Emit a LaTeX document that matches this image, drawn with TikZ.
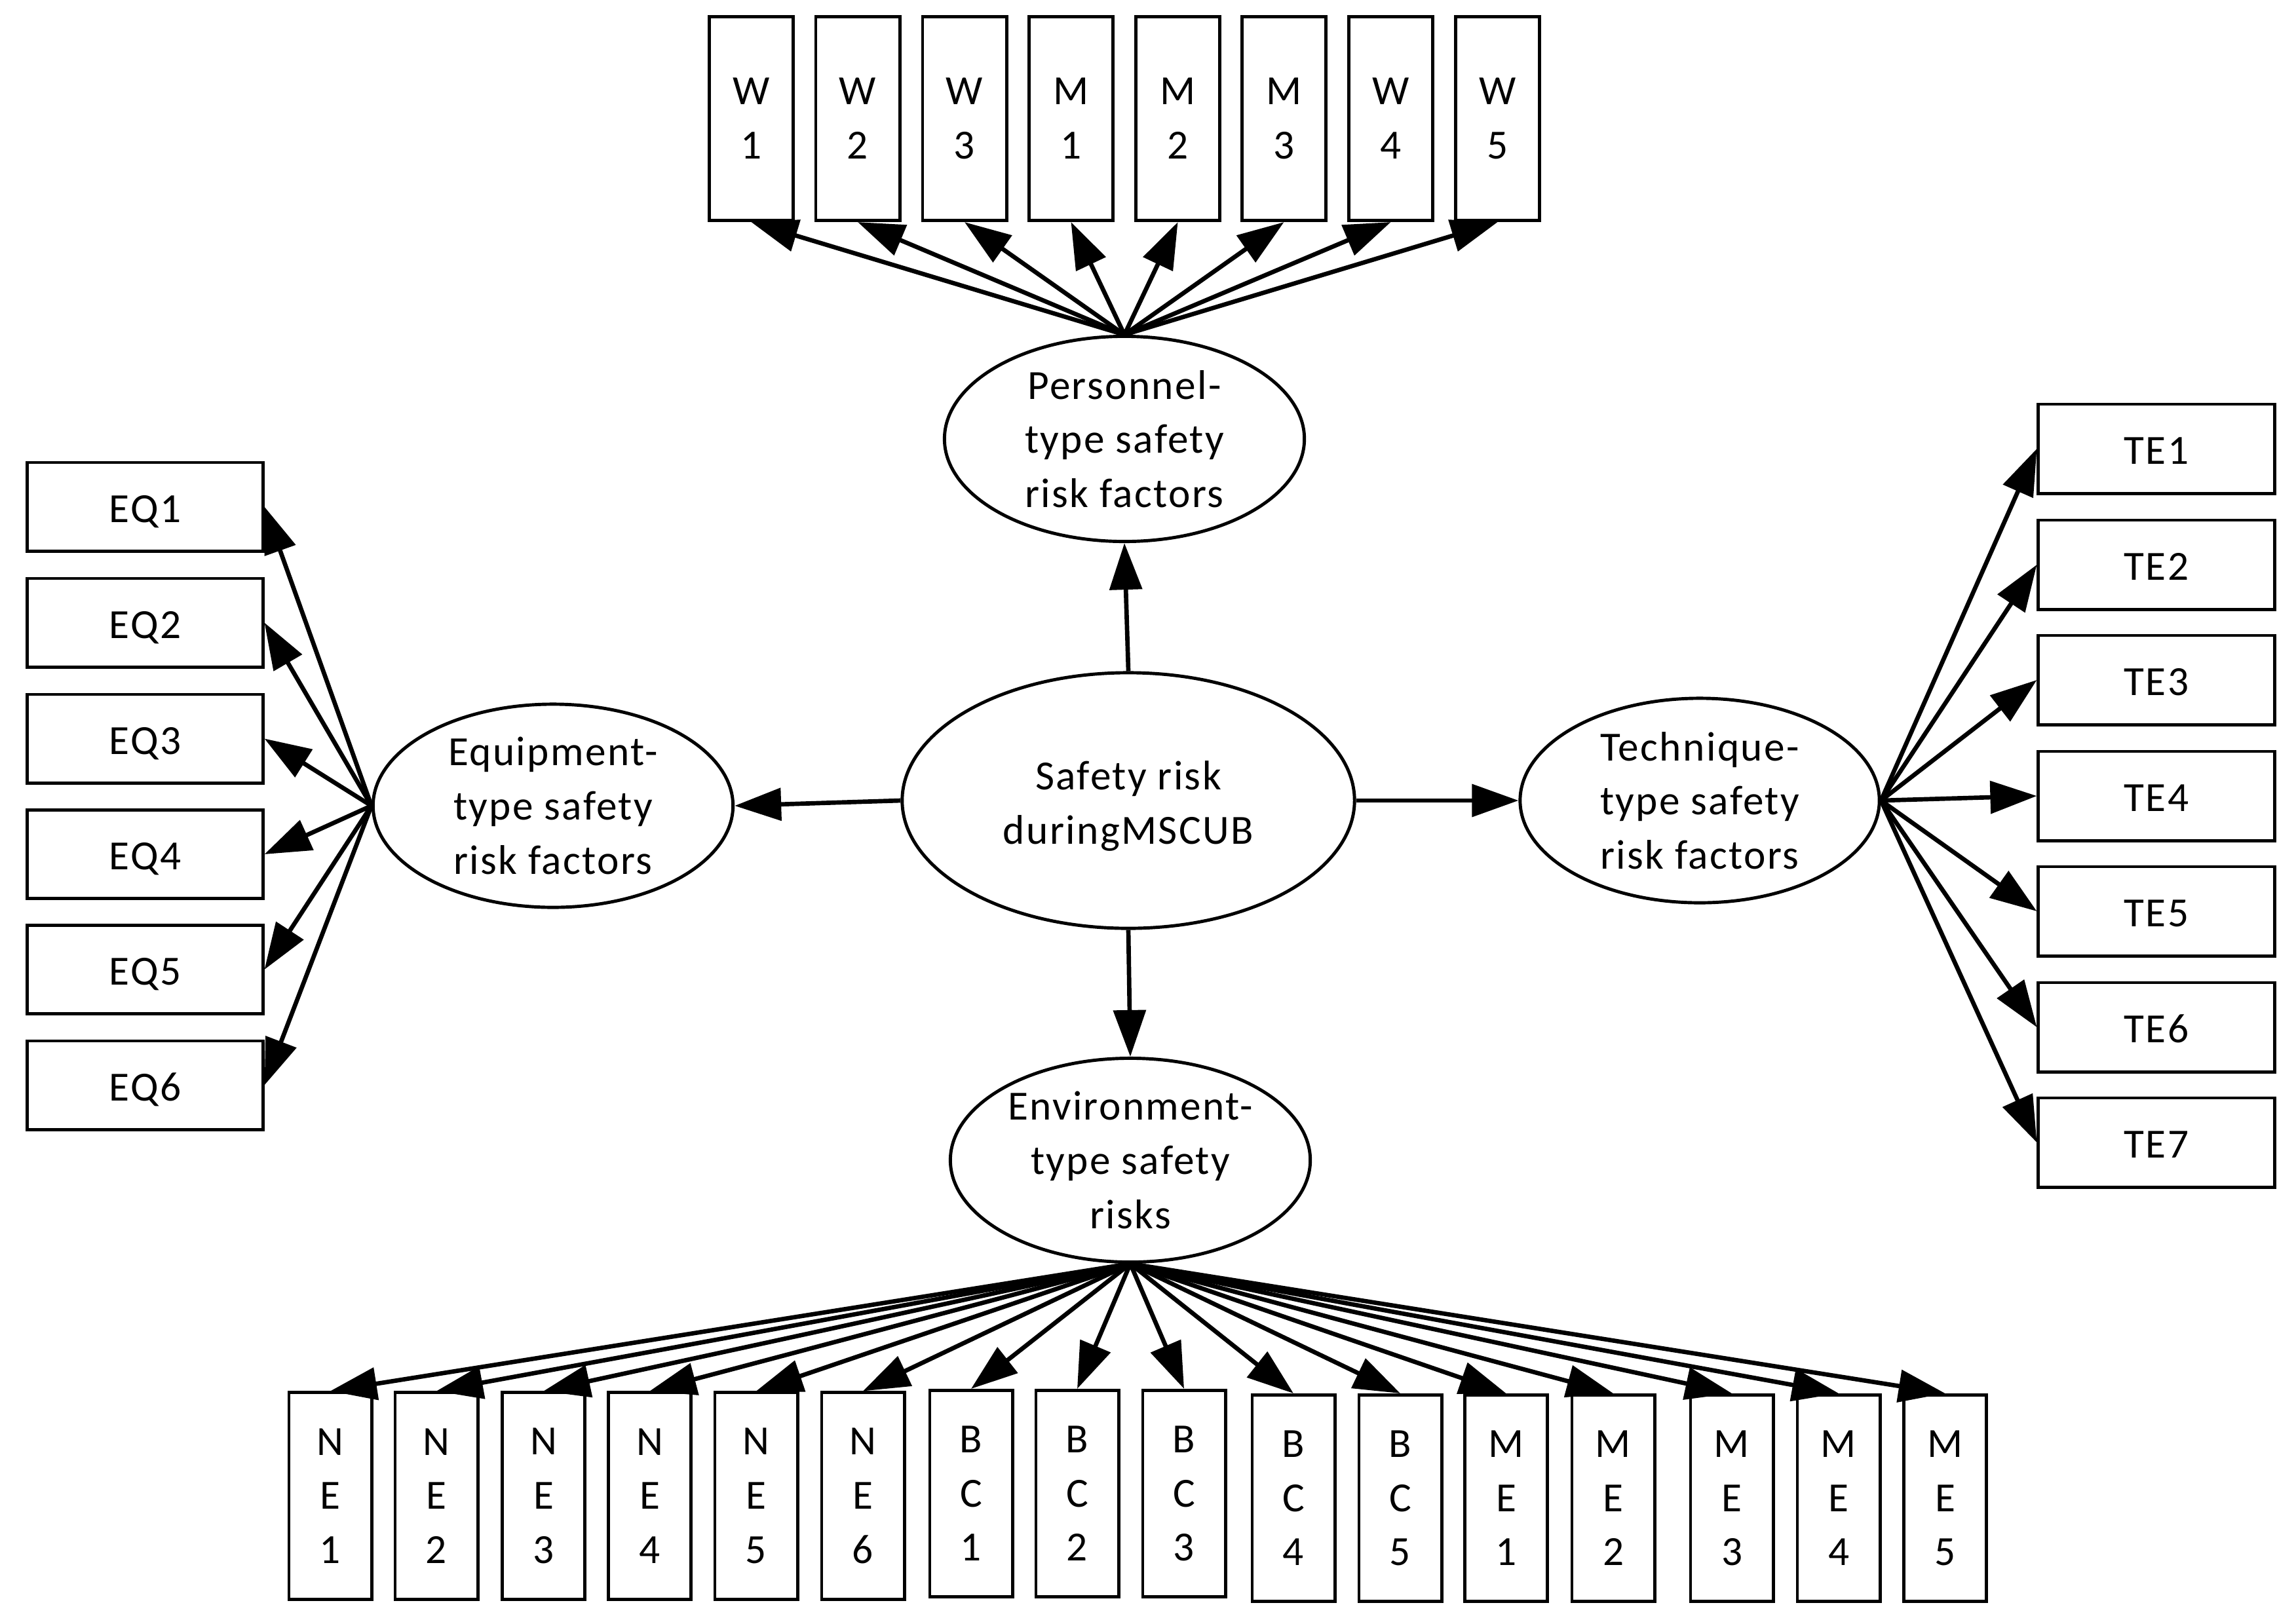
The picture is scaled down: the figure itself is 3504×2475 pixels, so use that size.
\documentclass[tikz,border=0pt]{standalone}
\usepackage{fontspec}
\setmainfont{Carlito}[LetterSpace=3.8]
\usetikzlibrary{shapes.geometric,arrows.meta}
\newcommand\lblfont{\fontsize{18}{23.5}\selectfont}
\begin{document}
\begin{tikzpicture}[x=0.01cm,y=-0.01cm,
  ell/.style={draw, ellipse, line width=1.4pt, inner sep=0pt, align=center, font=\lblfont},
  box/.style={draw, rectangle, line width=1.4pt, inner sep=0pt, align=center, font=\lblfont},
  vbox/.style={box, minimum width=1.28cm, minimum height=3.11cm},
  hbox/.style={box, minimum width=3.59cm, minimum height=1.35cm, text height=13.6pt, text depth=0pt},
  rbox/.style={hbox, minimum width=3.60cm, minimum height=1.36cm},
  bbox/.style={box, minimum width=1.26cm, minimum height=3.15cm},
  arr/.style={-{Triangle[length=0.71cm,width=0.49cm]}, line width=1.9pt}]
\useasboundingbox (0,0) rectangle (3504,2475);
% ellipses
\node[ell, minimum width=6.90cm, minimum height=3.90cm] (c) at (1722,1222) {\rule{0pt}{17.4pt}Safety risk\\duringMSCUB};
\node[ell, minimum width=5.49cm, minimum height=3.13cm] (pers) at (1716,670) {Personnel-\\type safety\\risk factors};
\node[ell, minimum width=5.49cm, minimum height=3.10cm] (equip) at (844,1230) {Equipment-\\type safety\\risk factors};
\node[ell, minimum width=5.48cm, minimum height=3.12cm] (tech) at (2594,1222) {Technique-\\type safety\\risk factors};
\node[ell, minimum width=5.49cm, minimum height=3.11cm] (env) at (1725,1771) {Environment-\\type safety\\risks};
% top boxes
\node[vbox] (w1) at (1146.5,181) {W\\1};
\node[vbox] (w2) at (1309,181) {W\\2};
\node[vbox] (w3) at (1472,181) {W\\3};
\node[vbox] (m1) at (1634.5,181) {M\\1};
\node[vbox] (m2) at (1797.5,181) {M\\2};
\node[vbox] (m3) at (1959.5,181) {M\\3};
\node[vbox] (w4) at (2122.5,181) {W\\4};
\node[vbox] (w5) at (2285.5,181) {W\\5};
% left boxes
\node[hbox] (eq1) at (221.5,773.5) {EQ1};
\node[hbox] (eq2) at (221.5,950.5) {EQ2};
\node[hbox] (eq3) at (221.5,1127.5) {EQ3};
\node[hbox] (eq4) at (221.5,1304) {EQ4};
\node[hbox] (eq5) at (221.5,1480) {EQ5};
\node[hbox] (eq6) at (221.5,1656.5) {EQ6};
% right boxes
\node[rbox] (te1) at (3291,685) {TE1};
\node[rbox] (te2) at (3291,862) {TE2};
\node[rbox] (te3) at (3291,1038) {TE3};
\node[rbox] (te4) at (3291,1215) {TE4};
\node[rbox] (te5) at (3291,1391) {TE5};
\node[rbox] (te6) at (3291,1568) {TE6};
\node[rbox] (te7) at (3291,1744) {TE7};
% bottom boxes
\node[bbox] (ne1) at (504,2283.5) {N\\E\\1};
\node[bbox] (ne2) at (666,2283.5) {N\\E\\2};
\node[bbox] (ne3) at (829.5,2283.5) {N\\E\\3};
\node[bbox] (ne4) at (991.5,2283.5) {N\\E\\4};
\node[bbox] (ne5) at (1154,2283.5) {N\\E\\5};
\node[bbox] (ne6) at (1317,2283.5) {N\\E\\6};
\node[bbox] (bc1) at (1482,2280) {B\\C\\1};
\node[bbox] (bc2) at (1644,2280) {B\\C\\2};
\node[bbox] (bc3) at (1807,2280) {B\\C\\3};
\node[bbox] (bc4) at (1974,2287) {B\\C\\4};
\node[bbox] (bc5) at (2137,2287) {B\\C\\5};
\node[bbox] (me1) at (2298.5,2287) {M\\E\\1};
\node[bbox] (me2) at (2462,2287) {M\\E\\2};
\node[bbox] (me3) at (2643,2287) {M\\E\\3};
\node[bbox] (me4) at (2806,2287) {M\\E\\4};
\node[bbox] (me5) at (2968.5,2287) {M\\E\\5};
% connectors from centre
\draw[arr] (c.north) -- (pers.south);
\draw[arr] (c.west) -- (equip.east);
\draw[arr] (c.east) -- (tech.west);
\draw[arr] (c.south) -- (env.north);
% personnel
\foreach \b in {w1,w2,w3,m1,m2,m3,w4,w5} \draw[arr] (pers.north) -- (\b.south);
% equipment
\foreach \b in {eq1,eq2,eq3,eq4,eq5,eq6} \draw[arr] (equip.west) -- (\b.east);
% technique
\foreach \b in {te1,te2,te3,te4,te5,te6,te7} \draw[arr] (tech.east) -- (\b.west);
% environment
\foreach \b in {ne1,ne2,ne3,ne4,ne5,ne6,bc1,bc2,bc3,bc4,bc5,me1,me2,me3,me4,me5} \draw[arr] (env.south) -- (\b.north);
\end{tikzpicture}
\end{document}
